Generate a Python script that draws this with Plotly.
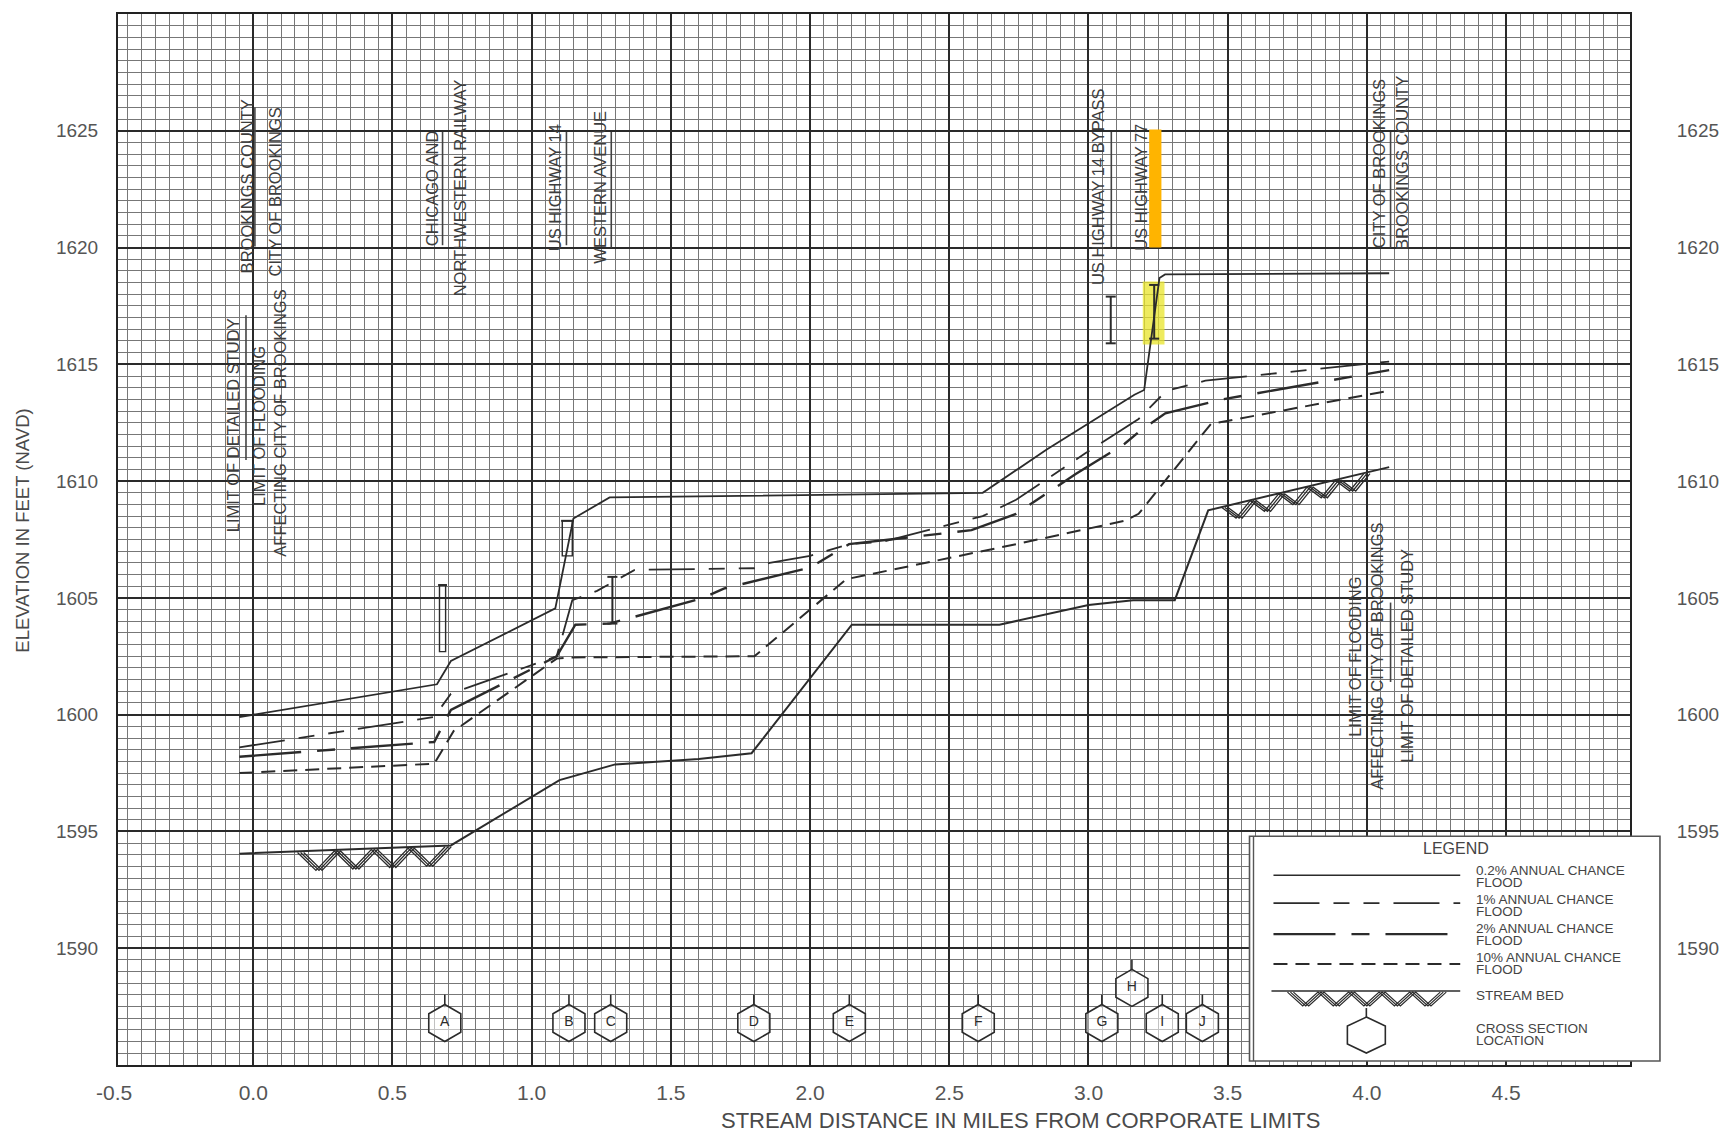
import numpy as np
import plotly.graph_objects as go

# ---------------- data ----------------
bed_x = [-0.05, 0.71, 1.10, 1.30, 1.60, 1.79, 2.15, 2.68, 3.00, 3.16, 3.31, 3.43, 4.08]
bed_y = [1594.05, 1594.4, 1597.2, 1597.87, 1598.1, 1598.35, 1603.85, 1603.85, 1604.7, 1604.9, 1604.9, 1608.75, 1610.6]

p02_x = [-0.05, 0.66, 0.71, 1.085, 1.15, 1.28, 2.62, 2.85, 3.165, 3.20, 3.255, 3.275, 4.08]
p02_y = [1599.9, 1601.3, 1602.3, 1604.55, 1608.4, 1609.3, 1609.5, 1611.35, 1613.7, 1613.9, 1618.7, 1618.85, 1618.9]

p1_x = [-0.05, 0.65, 0.71, 1.09, 1.146, 1.235, 1.37, 1.80, 1.855, 2.00, 2.14, 2.26, 2.62, 2.74, 2.99, 3.13, 3.18, 3.28, 3.42, 4.08]
p1_y = [1598.6, 1599.9, 1600.9, 1602.5, 1604.9, 1605.3, 1606.2, 1606.27, 1606.5, 1606.8, 1607.3, 1607.4, 1608.5, 1609.2, 1611.2, 1612.25, 1612.66, 1613.87, 1614.3, 1615.12]

p2_x = [-0.05, 0.65, 0.71, 1.09, 1.157, 1.28, 1.617, 1.69, 2.00, 2.14, 2.58, 2.74, 2.954, 3.13, 3.18, 3.25, 3.276, 3.48, 4.08]
p2_y = [1598.2, 1598.83, 1600.2, 1602.5, 1603.85, 1603.9, 1605.0, 1605.4, 1606.3, 1607.3, 1607.9, 1608.6, 1610.3, 1611.6, 1612.1, 1612.7, 1612.9, 1613.5, 1614.75]

p10_x = [-0.05, 0.65, 0.72, 1.09, 1.13, 1.80, 2.13, 2.74, 3.13, 3.18, 3.44, 4.08]
p10_y = [1597.5, 1597.9, 1599.3, 1602.4, 1602.45, 1602.5, 1605.8, 1607.3, 1608.3, 1608.6, 1612.45, 1613.87]

hex_labels = ["A", "B", "C", "D", "E", "F", "G", "H", "I", "J"]
hex_x = [0.688, 1.134, 1.284, 1.798, 2.141, 2.604, 3.048, 3.156, 3.265, 3.409]
hex_y = [1586.8, 1586.8, 1586.8, 1586.8, 1586.8, 1586.8, 1586.8, 1588.3, 1586.8, 1586.8]

bridge_x = [0.68, 1.128, 1.29, 3.08, 3.236]
bridge_low = [1602.7, 1606.8, 1603.9, 1615.9, 1616.1]
bridge_high = [1605.55, 1608.3, 1605.9, 1617.9, 1618.4]

hatch_start = [0.17, 3.49]
hatch_end = [0.70, 4.00]

x_ticks = [-0.5, 0.0, 0.5, 1.0, 1.5, 2.0, 2.5, 3.0, 3.5, 4.0, 4.5]
y_ticks = [1590, 1595, 1600, 1605, 1610, 1615, 1620, 1625]

# ---------------- styling ----------------
W, H = 1731, 1134
L, R, T, B = 118, 1632, 13, 1065
X0, X1 = -0.4857, 4.945
INK = "#2b2b2b"
TXT = "#3d3d3d"
FONT = "Liberation Sans, Arial, sans-serif"
DASH_1 = "46px,14px,16px,14px,16px,14px"
DASH_2 = "62px,16px,18px,16px"
DASH_10 = "14px,8px"


def pxx(v):
    return (v - L) / (R - L)


def pxy(v):
    return (B - v) / (B - T)


fig = go.Figure()

# stream bed hatching (zig-zag drawn under the stream bed line)
for x0, x1, nv, depth in zip(hatch_start, hatch_end, [4, 5], [0.8, 0.6]):
    xs = np.linspace(x0, x1, 2 * nv + 1)
    top = np.interp(xs, bed_x, bed_y) - 0.05
    ys = np.where(np.arange(len(xs)) % 2 == 0, top, top - depth)
    for sh in (-0.011, 0.0, 0.011):
        fig.add_trace(go.Scatter(x=xs + sh, y=ys, mode="lines",
                                 line=dict(color=INK, width=1.3),
                                 hoverinfo="skip"))

fig.add_trace(go.Scatter(x=bed_x, y=bed_y, mode="lines", name="STREAM BED",
                         line=dict(color=INK, width=2)))
fig.add_trace(go.Scatter(x=p10_x, y=p10_y, mode="lines", name="10% ANNUAL CHANCE FLOOD",
                         line=dict(color=INK, width=2, dash=DASH_10)))
fig.add_trace(go.Scatter(x=p2_x, y=p2_y, mode="lines", name="2% ANNUAL CHANCE FLOOD",
                         line=dict(color=INK, width=2.4, dash=DASH_2)))
fig.add_trace(go.Scatter(x=p1_x, y=p1_y, mode="lines", name="1% ANNUAL CHANCE FLOOD",
                         line=dict(color=INK, width=1.8, dash=DASH_1)))
fig.add_trace(go.Scatter(x=p02_x, y=p02_y, mode="lines", name="0.2% ANNUAL CHANCE FLOOD",
                         line=dict(color=INK, width=1.8)))

# cross section hexagons
ppf = (B - T) / 45.0  # pixels per foot
tick_off = 22 / ppf
fig.add_trace(go.Scatter(x=hex_x, y=[v + tick_off for v in hex_y], mode="markers",
                         marker=dict(symbol="line-ns-open", size=9, color=INK,
                                     line=dict(color=INK, width=1.6)),
                         hoverinfo="skip"))
fig.add_trace(go.Scatter(x=hex_x, y=hex_y, mode="markers+text", text=hex_labels,
                         textposition="middle center",
                         textfont=dict(family=FONT, size=14, color=INK),
                         marker=dict(symbol="hexagon", size=37, color="rgba(255,255,255,0.55)",
                                     line=dict(color=INK, width=1.6)),
                         hoverinfo="skip"))

# invisible trace for the right-hand axis
fig.add_trace(go.Scatter(x=[4.5], y=[1600], yaxis="y2", mode="markers",
                         marker=dict(opacity=0), hoverinfo="skip"))

shapes = []

# yellow highlight around Highway 77 bridge
shapes.append(dict(type="rect", xref="x", yref="y", x0=3.195, x1=3.273, y0=1615.85, y1=1618.55,
                   fillcolor="rgba(232,228,40,0.75)", line=dict(width=0), layer="between"))
# orange marker bar next to US HIGHWAY 77
shapes.append(dict(type="rect", xref="x", yref="y", x0=3.218, x1=3.262, y0=1620.0, y1=1625.05,
                   fillcolor="#FFB400", line=dict(width=0), layer="above"))

# bridge symbols
half_w = [0.011, 0.018, 0.0, 0.0, 0.0]
cap_w = [0.016, 0.022, 0.018, 0.018, 0.018]
for i, (bx, lo, hi) in enumerate(zip(bridge_x, bridge_low, bridge_high)):
    if half_w[i] > 0:
        shapes.append(dict(type="rect", xref="x", yref="y", x0=bx - half_w[i], x1=bx + half_w[i],
                           y0=lo, y1=hi, line=dict(color=INK, width=1.4)))
    else:
        shapes.append(dict(type="line", xref="x", yref="y", x0=bx, x1=bx, y0=lo, y1=hi,
                           line=dict(color=INK, width=2)))
        shapes.append(dict(type="line", xref="x", yref="y", x0=bx - cap_w[i], x1=bx + cap_w[i],
                           y0=lo, y1=lo, line=dict(color=INK, width=2)))
    shapes.append(dict(type="line", xref="x", yref="y", x0=bx - cap_w[i], x1=bx + cap_w[i],
                       y0=hi, y1=hi, line=dict(color=INK, width=2)))

# separator lines between stacked vertical labels
for sx, sy0, sy1 in [(-0.026, 1610.9, 1617.1), (0.006, 1620.05, 1626.0),
                     (0.680, 1620.1, 1624.95), (1.125, 1620.1, 1624.95),
                     (1.286, 1620.0, 1624.95), (3.082, 1620.0, 1624.95),
                     (4.085, 1620.0, 1624.95), (4.085, 1601.4, 1604.8)]:
    shapes.append(dict(type="line", xref="x", yref="y", x0=sx, x1=sx, y0=sy0, y1=sy1,
                       line=dict(color="#444", width=1.6)))

# ---------------- hand drawn legend box ----------------
shapes.append(dict(type="rect", xref="paper", yref="paper", x0=pxx(1251), x1=pxx(1662),
                   y0=pxy(1061), y1=pxy(836), fillcolor="white",
                   line=dict(color="#555", width=1.6), layer="above"))
shapes.append(dict(type="line", xref="paper", yref="paper", x0=pxx(1255), x1=pxx(1255),
                   y0=pxy(1061), y1=pxy(836), line=dict(color="#555", width=1.4), layer="above"))
for yy, dash, wd in [(875, "solid", 1.6), (903, DASH_1, 1.6), (934, DASH_2, 2.4), (964, DASH_10, 2)]:
    shapes.append(dict(type="line", xref="paper", yref="paper", x0=pxx(1275), x1=pxx(1462),
                       y0=pxy(yy), y1=pxy(yy), line=dict(color=INK, width=wd, dash=dash),
                       layer="above"))
shapes.append(dict(type="line", xref="paper", yref="paper", x0=pxx(1273), x1=pxx(1462),
                   y0=pxy(991), y1=pxy(991), line=dict(color=INK, width=1.6), layer="above"))
zx = np.linspace(1292, 1445, 11)
for sh in (-3, 0, 3):
    pts = [(zx[k] + sh, 992 if k % 2 == 0 else 1006) for k in range(len(zx))]
    path = "M " + " L ".join(f"{pxx(a):.5f},{pxy(b):.5f}" for a, b in pts)
    shapes.append(dict(type="path", xref="paper", yref="paper", path=path,
                       line=dict(color=INK, width=1.2), layer="above"))
cx, cy, rx, ry = 1368, 1035, 19, 18
hexpts = [(cx, cy - ry), (cx + rx, cy - ry / 2), (cx + rx, cy + ry / 2), (cx, cy + ry),
          (cx - rx, cy + ry / 2), (cx - rx, cy - ry / 2)]
path = "M " + " L ".join(f"{pxx(a):.5f},{pxy(b):.5f}" for a, b in hexpts) + " Z"
shapes.append(dict(type="path", xref="paper", yref="paper", path=path,
                   line=dict(color=INK, width=1.6), layer="above"))
shapes.append(dict(type="line", xref="paper", yref="paper", x0=pxx(cx), x1=pxx(cx),
                   y0=pxy(cy - ry - 9), y1=pxy(cy - ry), line=dict(color=INK, width=1.6),
                   layer="above"))

annotations = []
lf = dict(family=FONT, size=13.5, color="#444")
annotations.append(dict(x=pxx(1458), y=pxy(848), xref="paper", yref="paper", text="LEGEND",
                        showarrow=False, font=dict(family=FONT, size=16, color="#444"),
                        xanchor="center", yanchor="middle"))
for txt, yy in [("0.2% ANNUAL CHANCE", 870), ("FLOOD", 882), ("1% ANNUAL CHANCE", 899),
                ("FLOOD", 911), ("2% ANNUAL CHANCE", 928), ("FLOOD", 940),
                ("10% ANNUAL CHANCE", 957), ("FLOOD", 969), ("STREAM BED", 995),
                ("CROSS SECTION", 1028), ("LOCATION", 1040)]:
    annotations.append(dict(x=pxx(1476), y=pxy(yy), xref="paper", yref="paper", text=txt,
                            showarrow=False, font=lf, xanchor="left", yanchor="middle"))

# vertical labels on the profile
vf = dict(family=FONT, size=16.5, color=TXT)
for txt, ax, ay in [("BROOKINGS COUNTY", -0.024, 1622.6),
                    ("CITY OF BROOKINGS", 0.078, 1622.4),
                    ("LIMIT OF DETAILED STUDY", -0.072, 1612.4),
                    ("LIMIT OF FLOODING", 0.020, 1612.35),
                    ("AFFECTING CITY OF BROOKINGS", 0.096, 1612.5),
                    ("CHICAGO AND", 0.640, 1622.56),
                    ("NORTHWESTERN RAILWAY", 0.741, 1622.56),
                    ("US HIGHWAY 14", 1.082, 1622.56),
                    ("WESTERN AVENUE", 1.245, 1622.6),
                    ("US HIGHWAY 14 BYPASS", 3.035, 1622.6),
                    ("US HIGHWAY 77", 3.189, 1622.56),
                    ("CITY OF BROOKINGS", 4.046, 1623.6),
                    ("BROOKINGS COUNTY", 4.128, 1623.6),
                    ("LIMIT OF FLOODING", 3.956, 1602.47),
                    ("AFFECTING CITY OF BROOKINGS", 4.038, 1602.5),
                    ("LIMIT OF DETAILED STUDY", 4.146, 1602.5)]:
    annotations.append(dict(x=ax, y=ay, xref="x", yref="y", text=txt, textangle=-90,
                            showarrow=False, font=vf, xanchor="center", yanchor="middle"))

# the -0.5 tick label sits just left of the grid edge (outside the axis range)
xfont = dict(family=FONT, size=21, color="#555")
px_per_mile = (R - L) / (X1 - X0)
annotations.append(dict(x=pxx(L + (x_ticks[0] - X0) * px_per_mile), y=0, xref="paper",
                        yref="paper", text=f"{x_ticks[0]:.1f}", showarrow=False, font=xfont,
                        xanchor="center", yanchor="top", yshift=-14))

# axis titles
annotations.append(dict(x=pxx(1022), y=pxy(1121), xref="paper", yref="paper",
                        text="STREAM DISTANCE IN MILES FROM CORPORATE LIMITS", showarrow=False,
                        font=dict(family=FONT, size=22, color="#4a4a4a"),
                        xanchor="center", yanchor="middle"))
annotations.append(dict(x=pxx(22), y=pxy(530), xref="paper", yref="paper",
                        text="ELEVATION IN FEET (NAVD)", textangle=-90, showarrow=False,
                        font=dict(family=FONT, size=18.5, color="#4a4a4a"),
                        xanchor="center", yanchor="middle"))

tickfont = dict(family=FONT, size=19, color="#555")
fig.update_layout(
    width=W, height=H, margin=dict(l=L, r=W - R, t=T, b=H - B),
    paper_bgcolor="white", plot_bgcolor="white", showlegend=False,
    shapes=shapes, annotations=annotations,
    xaxis=dict(range=[X0, X1], tickmode="array", tickvals=x_ticks[1:],
               ticktext=[f"{v:.1f}" for v in x_ticks[1:]],
               tickfont=xfont,
               ticks="outside", ticklen=8, tickcolor="rgba(0,0,0,0)",
               showgrid=True, gridcolor="#2a2a2a", gridwidth=1.5,
               minor=dict(tickmode="linear", tick0=0, dtick=0.05, showgrid=True,
                          gridcolor="#777777", gridwidth=1),
               showline=True, linecolor="#222", linewidth=2, mirror=True, zeroline=False),
    yaxis=dict(range=[1585, 1630], tickmode="array", tickvals=y_ticks,
               ticktext=[str(v) for v in y_ticks], tickfont=tickfont,
               ticks="outside", ticklen=14, tickcolor="rgba(0,0,0,0)",
               showgrid=True, gridcolor="#2a2a2a", gridwidth=1.5,
               minor=dict(tickmode="linear", tick0=1585, dtick=0.5, showgrid=True,
                          gridcolor="#777777", gridwidth=1),
               showline=True, linecolor="#222", linewidth=2, mirror=True, zeroline=False),
    yaxis2=dict(range=[1585, 1630], overlaying="y", side="right", tickmode="array",
                tickvals=y_ticks, ticktext=[str(v) for v in y_ticks], tickfont=tickfont,
                ticks="outside", ticklen=42, tickcolor="rgba(0,0,0,0)",
                showgrid=False, zeroline=False, showline=False),
)

fig.write_html(
    "out.html",
    config={"displayModeBar": False},
    post_script="document.body.style.margin='0';document.body.style.padding='0';"
                "document.documentElement.style.overflow='hidden';",
)
